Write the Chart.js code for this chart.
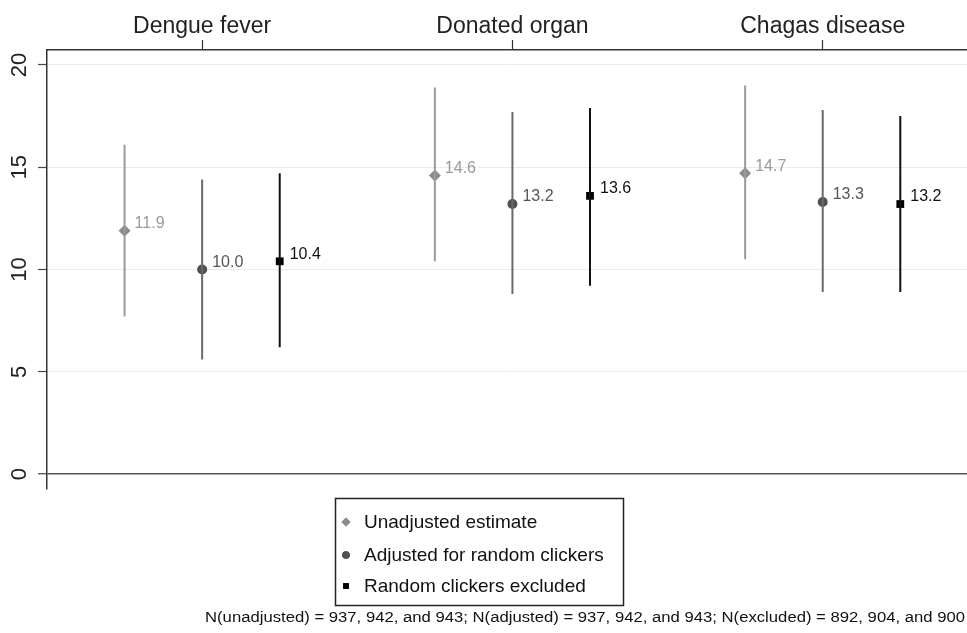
<!DOCTYPE html>
<html>
<head>
<meta charset="utf-8">
<script src="https://cdn.jsdelivr.net/npm/chart.js@4"></script>
<style>
  html, body { margin: 0; padding: 0; background: #fff; }
  #wrap { width: 967px; height: 633px; position: relative; }
</style>
</head>
<body>
<div id="wrap"><canvas id="chart"></canvas></div>
<script>
// categories on the top axis
const categories = ['Dengue fever', 'Donated organ', 'Chagas disease'];
const seriesNames = ['Unadjusted estimate', 'Adjusted for random clickers', 'Random clickers excluded'];

// point estimates
const unadjusted = [11.9, 14.6, 14.7];
const adjusted = [10.0, 13.2, 13.3];
const excluded = [10.4, 13.6, 13.2];

// confidence intervals
const unadjustedLow = [7.7, 10.4, 10.5];
const unadjustedHigh = [16.1, 18.9, 19.0];
const adjustedLow = [5.6, 8.8, 8.9];
const adjustedHigh = [14.4, 17.7, 17.8];
const excludedLow = [6.2, 9.2, 8.9];
const excludedHigh = [14.7, 17.9, 17.5];

const yTicks = [0, 5, 10, 15, 20];
const note = 'N(unadjusted) = 937, 942, and 943; N(adjusted) = 937, 942, and 943; N(excluded) = 892, 904, and 900';

const offsets = [-0.25, 0, 0.25];
const fontFam = '"Liberation Sans", Arial, sans-serif';

const styles = [
    { color: '#8c8c8c', bar: '#9a9a9a', text: '#9a9a9a', shape: 'rectRot', r: 6 },
    { color: '#505050', bar: '#6a6a6a', text: '#555555', shape: 'circle', r: 5 },
    { color: '#000000', bar: '#111111', text: '#111111', shape: 'rect', r: 5.5 }
];

// build the error bar segments, broken with gaps
function bars(low, high, k) {
    const out = [];
    low.forEach((v, i) => {
        const x = i + 1 + offsets[k];
        out.push({ x: x, y: v }, { x: x, y: high[i] }, { x: x, y: null });
    });
    return out;
}
function points(vals, k) {
    return vals.map((v, i) => ({ x: i + 1 + offsets[k], y: v }));
}

const estimates = [unadjusted, adjusted, excluded];
const lows = [unadjustedLow, adjustedLow, excludedLow];
const highs = [unadjustedHigh, adjustedHigh, excludedHigh];

const datasets = [];
for (let k = 0; k < 3; k++) {
    datasets.push({
        type: 'line',
        label: seriesNames[k] + ' CI',
        data: bars(lows[k], highs[k], k),
        borderColor: styles[k].bar,
        borderWidth: 2,
        pointRadius: 0,
        spanGaps: false,
        showLine: true
    });
}
for (let k = 0; k < 3; k++) {
    datasets.push({
        type: 'scatter',
        label: seriesNames[k],
        data: points(estimates[k], k),
        backgroundColor: styles[k].color,
        borderColor: styles[k].color,
        pointStyle: styles[k].shape,
        pointRadius: styles[k].r,
        pointHoverRadius: styles[k].r,
        borderWidth: 0,
        valueIndex: k
    });
}

// value labels, y tick labels, legend box and note
const extras = {
    id: 'extras',
    afterDatasetsDraw(chart) {
        const ctx = chart.ctx;
        const y = chart.scales.y;
        ctx.save();
        // point labels
        ctx.font = '16px ' + fontFam;
        ctx.textAlign = 'left';
        ctx.textBaseline = 'middle';
        chart.data.datasets.forEach((ds, di) => {
            if (ds.valueIndex === undefined) return;
            const meta = chart.getDatasetMeta(di);
            ctx.fillStyle = styles[ds.valueIndex].text;
            meta.data.forEach((pt, i) => {
                ctx.fillText(ds.data[i].y.toFixed(1), pt.x + 10, pt.y - 7);
            });
        });
        // rotated y tick labels
        ctx.font = '22px ' + fontFam;
        ctx.fillStyle = '#222';
        ctx.textAlign = 'center';
        ctx.textBaseline = 'middle';
        yTicks.forEach(v => {
            ctx.save();
            ctx.translate(20, y.getPixelForValue(v));
            ctx.rotate(-Math.PI / 2);
            ctx.fillText(String(v), 0, 0);
            ctx.restore();
        });
        // legend
        ctx.strokeStyle = '#222';
        ctx.lineWidth = 1.5;
        ctx.strokeRect(335.5, 498.5, 288, 107);
        ctx.font = '19px ' + fontFam;
        ctx.textAlign = 'left';
        const rows = [522, 555, 586];
        rows.forEach((ry, k) => {
            const sr = [4.5, 3.8, 4][k];
            ctx.fillStyle = styles[k].color;
            Chart.helpers.drawPoint(ctx, { pointStyle: styles[k].shape, radius: sr, borderWidth: 0 }, 346, ry);
            ctx.fill();
            ctx.fillStyle = '#111';
            ctx.fillText(seriesNames[k], 364, ry + 1);
        });
        // note, stretched to the reference width
        ctx.font = '14px ' + fontFam;
        ctx.fillStyle = '#111';
        ctx.textAlign = 'left';
        const w = ctx.measureText(note).width;
        ctx.save();
        ctx.translate(205, 618);
        ctx.scale(760 / w, 1);
        ctx.fillText(note, 0, 0);
        ctx.restore();
        ctx.restore();
    }
};

new Chart(document.getElementById('chart'), {
    type: 'scatter',
    data: { datasets: datasets },
    plugins: [extras],
    options: {
        responsive: true,
        maintainAspectRatio: false,
        animation: false,
        layout: { autoPadding: false, padding: { left: 0, right: 0, top: 0, bottom: 144 } },
        plugins: {
            legend: { display: false },
            tooltip: { enabled: false }
        },
        scales: {
            x: {
                type: 'linear',
                position: 'top',
                min: 0.5,
                max: 3.465,
                afterBuildTicks: (scale) => {
                    scale.ticks = [1, 2, 3].map(v => ({ value: v }));
                },
                afterFit: (scale) => {
                    scale.height = 50;
                    scale.paddingLeft = 0;
                    scale.paddingRight = 0;
                },
                ticks: {
                    callback: (v) => categories[v - 1],
                    font: { size: 23, family: fontFam },
                    color: '#222',
                    padding: 0,
                    maxRotation: 0
                },
                grid: {
                    drawOnChartArea: false,
                    drawTicks: true,
                    tickLength: 10,
                    tickColor: '#333',
                    tickWidth: 1.2
                },
                border: { color: '#333', width: 1.5 }
            },
            y: {
                type: 'linear',
                min: -0.73,
                max: 20.73,
                afterBuildTicks: (scale) => {
                    scale.ticks = yTicks.map(v => ({ value: v }));
                },
                afterFit: (scale) => {
                    scale.width = 47;
                    scale.paddingTop = 0;
                    scale.paddingBottom = 0;
                },
                ticks: { display: false },
                grid: {
                    color: (c) => c.tick && c.tick.value === 0 ? '#555' : '#e4eeec',
                    lineWidth: (c) => c.tick && c.tick.value === 0 ? 1.5 : 1,
                    drawTicks: true,
                    tickLength: 9,
                    tickColor: '#444',
                    tickWidth: 1.2
                },
                border: { color: '#333', width: 1.5 }
            }
        }
    }
});
</script>
</body>
</html>
